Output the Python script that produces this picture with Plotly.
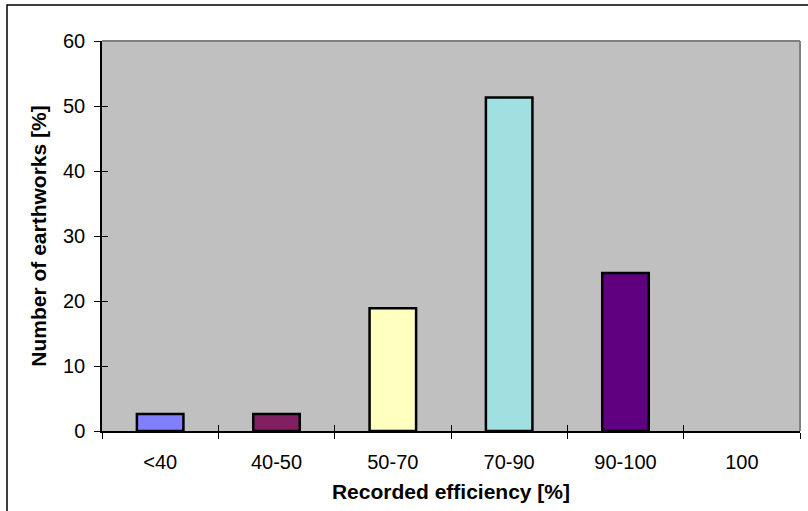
import plotly.graph_objects as go

# Distribution of earthworks by recorded efficiency
categories = ["<40", "40-50", "50-70", "70-90", "90-100", "100"]
share_pct = [2.6, 2.6, 18.9, 51.3, 24.3, 0]
bar_colors = ["#8080FF", "#802060", "#FFFFC0", "#A0E0E0", "#600080", "#FF8080"]
y_ticks = [0, 10, 20, 30, 40, 50, 60]

W, H = 808, 511
M_L, M_R, M_T, M_B = 102, 8, 41, 80
PW, PH = W - M_L - M_R, H - M_T - M_B

font_main = "Arial, Liberation Sans, sans-serif"

# empty categories get no outline
outline_w = [2.5 if v > 0 else 0 for v in share_pct]

fig = go.Figure()
fig.add_trace(go.Bar(
    x=categories,
    y=share_pct,
    marker=dict(color=bar_colors, line=dict(color="black", width=outline_w)),
    showlegend=False,
))

# Invisible helper trace so the overlay axes carry inward tick marks
fig.add_trace(go.Scatter(x=[None], y=[None], xaxis="x2", yaxis="y2",
                         showlegend=False, hoverinfo="skip"))

fig.update_layout(
    width=W, height=H,
    margin=dict(l=M_L, r=M_R, t=M_T, b=M_B),
    paper_bgcolor="white",
    plot_bgcolor="#C0C0C0",
    bargap=0.6,
    font=dict(family=font_main, size=20, color="black"),
    xaxis=dict(
        type="category",
        tickson="boundaries",
        ticks="outside", ticklen=6, tickcolor="black", tickwidth=1,
        showline=True, linecolor="black", linewidth=1.5,
        showgrid=False, zeroline=False,
        tickfont=dict(size=20),
        ticklabelstandoff=12,
        title=dict(text="<b>Recorded efficiency [%]</b>", font=dict(size=21), standoff=13),
    ),
    yaxis=dict(
        range=[0, 60],
        tickvals=y_ticks,
        ticks="outside", ticklen=6, tickcolor="black", tickwidth=1,
        showline=True, linecolor="black", linewidth=1.5,
        showgrid=False, zeroline=False,
        tickfont=dict(size=20),
        ticklabelstandoff=5,
        title=dict(text="<b>Number of earthworks [%]</b>", font=dict(size=21), standoff=11),
    ),
    xaxis2=dict(
        overlaying="x", range=[-0.5, len(categories) - 0.5],
        tickvals=[i + 0.5 for i in range(-1, len(categories))],
        ticks="inside", ticklen=6, tickcolor="black", tickwidth=1,
        showticklabels=False, showgrid=False, zeroline=False, showline=False,
    ),
    yaxis2=dict(
        overlaying="y", range=[0, 60], tickvals=y_ticks,
        ticks="inside", ticklen=6, tickcolor="black", tickwidth=1,
        showticklabels=False, showgrid=False, zeroline=False, showline=False,
    ),
)

# Grey frame along the top and right of the plot area
fig.add_shape(type="line", xref="paper", yref="paper", x0=0, x1=1, y0=1, y1=1,
              line=dict(color="#808080", width=2), layer="below")
fig.add_shape(type="line", xref="paper", yref="paper", x0=1, x1=1, y0=0, y1=1,
              line=dict(color="#808080", width=2), layer="below")

# Outer chart border
fig.add_shape(type="rect", xref="paper", yref="paper",
              x0=(7 - M_L) / PW, x1=(W + 20 - M_L) / PW,
              y0=-(H + 20 - M_T - PH) / PH, y1=(M_T + PH - 5) / PH,
              line=dict(color="black", width=1.5), fillcolor="rgba(0,0,0,0)")

fig.write_html("out.html")
